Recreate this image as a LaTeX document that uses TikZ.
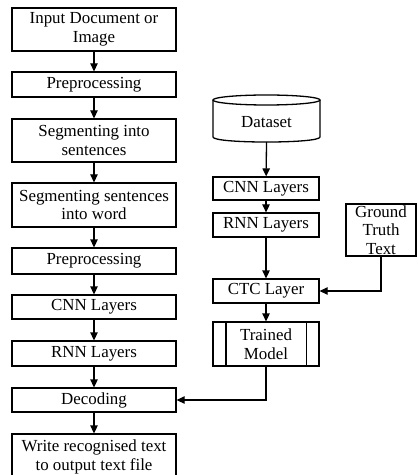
\documentclass[tikz,border=0pt]{standalone}
\usepackage{fontspec}
\setmainfont{Liberation Serif}
\usetikzlibrary{arrows.meta}
\begin{document}
\begin{tikzpicture}[x=1bp,y=-1bp,
  box/.style={draw, line width=1.3bp, align=center, inner sep=0pt,
    font=\fontsize{16.9bp}{18.5bp}\selectfont},
  lbox/.style={box, minimum width=164bp},
  rbox/.style={box, minimum width=106bp},
  arr/.style={line width=1.3bp, -{Triangle[length=8bp,width=7.5bp]}},
  ln/.style={line width=1.3bp}]
\clip (0,0) rectangle (417,475);
\useasboundingbox (0,0) rectangle (417,475);
% left column
\node[lbox, minimum height=43bp] (n1) at (94,29.5) {Input Document or\\Image};
\node[lbox, minimum height=25bp] (n2) at (94,84.5) {Preprocessing};
\node[lbox, minimum height=43bp] (n3) at (94,140.5) {Segmenting into\\sentences};
\node[lbox, minimum height=44bp] (n4) at (94,205) {Segmenting sentences\\into word};
\node[lbox, minimum height=26bp] (n5) at (94,261) {Preprocessing};
\node[lbox, minimum height=24bp] (n6) at (94,307) {CNN Layers};
\node[lbox, minimum height=25bp] (n7) at (94,353.5) {RNN Layers};
\node[lbox, minimum height=24bp] (n8) at (94,400) {Decoding};
\node[lbox, minimum height=46bp] (n9) at (94,457) {Write recognised text\\to output text file};
\foreach \a/\b in {n1/n2,n2/n3,n3/n4,n4/n5,n5/n6,n6/n7,n7/n8,n8/n9}
  \draw[arr] (\a) -- (\b);
% right column
\draw[ln] (266.5,100) ellipse[x radius=53.5, y radius=5];
\draw[ln] (213,100) -- (213,137) .. controls (213,143.7) and (320,143.7) .. (320,137) -- (320,100);
\node[font=\fontsize{16.9bp}{18.5bp}\selectfont, inner sep=0pt] (ds) at (266.5,122) {Dataset};
\coordinate (dsb) at (266.5,142);
\node[rbox, minimum height=23bp] (c2) at (266,188.5) {CNN Layers};
\node[rbox, minimum height=24bp] (r2) at (266,225) {RNN Layers};
\node[rbox, minimum height=24bp] (ctc) at (266,291) {CTC Layer};
\node[rbox, minimum height=44bp] (tm) at (266,344) {Trained\\Model};
\draw[ln] ([xshift=13.5bp]tm.north west) -- ([xshift=13.5bp]tm.south west);
\draw[ln] ([xshift=-13.5bp]tm.north east) -- ([xshift=-13.5bp]tm.south east);
\node[box, minimum width=70bp, minimum height=52bp] (gt) at (381,230) {Ground\\Truth\\Text};
\draw[arr] (dsb) -- (c2);
\draw[arr] (c2) -- (r2);
\draw[arr] (r2) -- (ctc);
\draw[arr] (ctc) -- (tm);
\draw[arr] (gt.south) |- (ctc.east);
\draw[arr] (tm.south) |- (n8.east);
\end{tikzpicture}
\end{document}
